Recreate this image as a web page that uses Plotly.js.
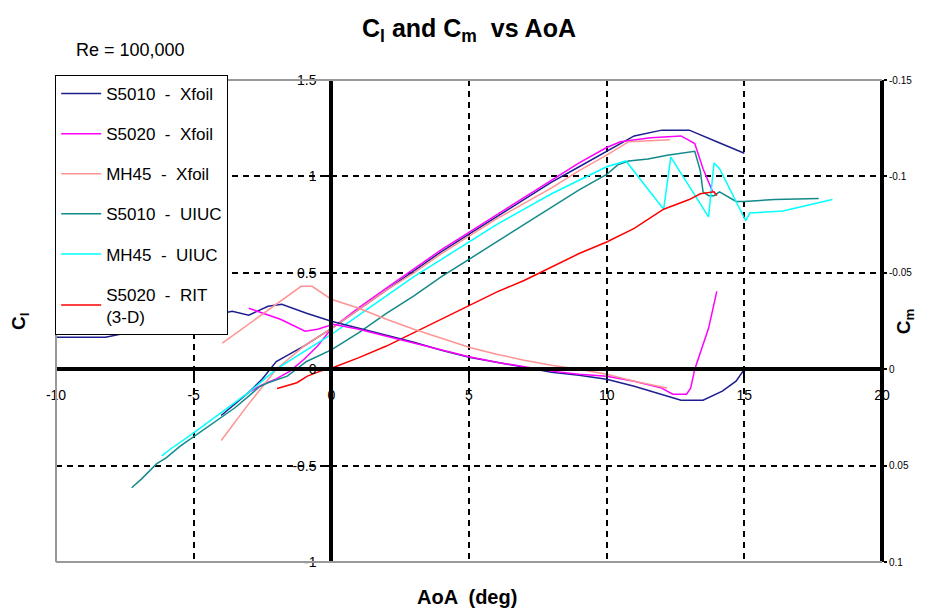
<!DOCTYPE html>
<html>
<head>
<meta charset="utf-8">
<script src="https://cdn.plot.ly/plotly-3.0.1.min.js"></script>
<style>html,body{margin:0;padding:0;background:#fff;}#chart{width:934px;height:611px;}</style>
</head>
<body>
<div id="chart"></div>
<script>
// ---- Data ----
const seriesNames = ["S5010  -  Xfoil", "S5020  -  Xfoil", "MH45  -  Xfoil", "S5010  -  UIUC", "MH45  -  UIUC", "S5020  -  RIT<br>(3-D)"];

// Cl vs AoA
const aoaS5010X = [-4,-3.5,-3,-2.5,-2,-1.5,-1,0,1,2,3,4,5,6,7,8,9,10,11,12,13,14,15];
const clS5010X  = [-0.24,-0.18,-0.12,-0.05,0.04,0.08,0.12,0.21,0.31,0.41,0.51,0.61,0.70,0.79,0.88,0.97,1.05,1.13,1.21,1.24,1.24,1.18,1.12];

const aoaS5020X = [-3,-2.5,-2,-1.5,-1,-0.5,0,1,2,3,4,5,6,7,8,9,10,10.5,11.6,12.7,13.2,13.5,13.85];
const clS5020X  = [-0.12,-0.08,-0.05,-0.01,0.05,0.12,0.21,0.32,0.42,0.52,0.62,0.71,0.80,0.89,0.98,1.07,1.15,1.18,1.20,1.21,1.17,1.04,0.92];

const aoaMH45X = [-4,-3,-2,-1,0,1,2,3,4,5,6,7,8,9,10,10.8,12.3];
const clMH45X  = [-0.37,-0.18,0.0,0.12,0.21,0.31,0.41,0.50,0.60,0.69,0.78,0.86,0.94,1.03,1.11,1.18,1.19];

const aoaS5010U = [-7.25,-6.9,-6.34,-6,-5.5,-5,-4.5,-4,-3.5,-3,-2.6,-2.3,-1.6,-0.9,0,1,2,3,4,5,6,7,8,9,10,10.4,10.8,11.5,12.2,12.7,13.2,13.4,13.5,13.7,13.9,14.1,14.7,15,16.1,17.7];
const clS5010U  = [-0.615,-0.57,-0.49,-0.46,-0.40,-0.35,-0.30,-0.25,-0.20,-0.14,-0.09,-0.07,-0.036,0.04,0.10,0.19,0.29,0.38,0.48,0.57,0.66,0.75,0.84,0.93,1.01,1.06,1.08,1.09,1.11,1.12,1.13,1.03,0.92,0.90,0.90,0.92,0.87,0.87,0.88,0.885];

const aoaMH45U = [-6.16,-5.8,-5,-4,-3,-2,-1,0,1,2,3,4,5,6,7,8,9,10,10.7,12.07,12.33,13.7,13.9,14.1,15.05,15.2,16.4,18.2];
const clMH45U  = [-0.45,-0.41,-0.33,-0.225,-0.12,0.0,0.09,0.18,0.28,0.38,0.48,0.57,0.66,0.75,0.83,0.91,0.98,1.05,1.08,0.83,1.10,0.79,1.07,1.04,0.77,0.81,0.82,0.88];

const aoaRIT = [-1.97,-1.25,-0.87,-0.4,0,1,2,3,4,5,6,7,8,9,10,11,12.07,13,13.4,13.9,14.0];
const clRIT  = [-0.10,-0.07,-0.036,-0.01,0.005,0.06,0.12,0.19,0.26,0.33,0.40,0.46,0.53,0.60,0.66,0.73,0.83,0.88,0.91,0.92,0.90];

// Cm vs AoA (right axis)
const aoaCmS5010X = [-10,-8.2,-3.6,-3.0,-2.3,-1.8,-0.9,0,1,2,3,4,5,6,7,8,9,10,11,12,12.7,13.5,14.2,14.7,15];
const cmS5010X    = [-0.0166,-0.0166,-0.0300,-0.0280,-0.0326,-0.0337,-0.0290,-0.0249,-0.0212,-0.0176,-0.0140,-0.0098,-0.0062,-0.0036,-0.0010,0.0016,0.0031,0.0052,0.0088,0.0130,0.0161,0.0161,0.0114,0.0062,0.0];

const aoaCmS5020X = [-3.0,-1.85,-0.95,-0.5,0.07,1,2,3,4,5,6,7,8,9,10,11,12,12.4,12.9,13.05,13.2,13.7,14.0];
const cmS5020X    = [-0.0316,-0.0259,-0.0197,-0.0207,-0.0233,-0.0207,-0.0171,-0.0135,-0.0098,-0.0065,-0.0036,-0.0012,0.0010,0.0026,0.0036,0.0062,0.0098,0.0130,0.0130,0.0098,0.0,-0.0212,-0.0404];

const aoaCmMH45X = [-3.96,-2.5,-1.1,-0.7,0,1,2,3,4,5,6,7,8,9,10,11,12.2];
const cmMH45X    = [-0.0135,-0.0285,-0.0430,-0.0430,-0.0363,-0.0316,-0.0259,-0.0207,-0.0161,-0.0114,-0.0078,-0.0047,-0.0021,0.0,0.0026,0.0062,0.0098];

// Tick labels
const xTickVals = [-10,-5,0,5,10,15,20];
const xTickText = ["-10","-5","0","5","10","15","20"];
const clTickVals = [-1,-0.5,0,0.5,1,1.5];
const clTickText = ["-1","-0.5","0","0.5","1","1.5"];
const cmTickVals = [0.1,0.05,0,-0.05,-0.1,-0.15];
const cmTickText = ["0.1","0.05","0","-0.05","-0.1","-0.15"];

// ---- Styling ----
const colors = ["#1e1e90", "#ff00ff", "#ff9494", "#138a8a", "#00ffff", "#ff0000"];
const FONT = "Liberation Sans, Arial, sans-serif";
const LW = 1.5;

function clTrace(x, y, i) {
  return {x: x, y: y, type: "scatter", mode: "lines", name: seriesNames[i],
    legendgroup: "g" + i, line: {color: colors[i], width: LW}, xaxis: "x", yaxis: "y"};
}
function cmTrace(x, y, i) {
  return {x: x, y: y, type: "scatter", mode: "lines", name: seriesNames[i] + " Cm",
    legendgroup: "g" + i, showlegend: false, line: {color: colors[i], width: LW}, xaxis: "x", yaxis: "y2"};
}

const data = [
  cmTrace(aoaCmS5010X, cmS5010X, 0),
  cmTrace(aoaCmS5020X, cmS5020X, 1),
  cmTrace(aoaCmMH45X, cmMH45X, 2),
  clTrace(aoaS5010X, clS5010X, 0),
  clTrace(aoaS5020X, clS5020X, 1),
  clTrace(aoaMH45X, clMH45X, 2),
  clTrace(aoaS5010U, clS5010U, 3),
  clTrace(aoaMH45U, clMH45U, 4),
  clTrace(aoaRIT, clRIT, 5)
];

const layout = {
  width: 934, height: 611,
  margin: {l: 56, r: 52, t: 80, b: 49, pad: 0},
  paper_bgcolor: "#ffffff", plot_bgcolor: "#ffffff",
  font: {family: FONT, color: "#000000", size: 14},
  showlegend: true,
  legend: {
    x: -0.001, y: 1.0104, xanchor: "left", yanchor: "top",
    bgcolor: "#ffffff", bordercolor: "#000000", borderwidth: 1,
    font: {family: FONT, size: 17, color: "#000000"},
    tracegroupgap: 15, traceorder: "grouped", itemwidth: 40
  },
  xaxis: {
    range: [-10, 20], anchor: "free", position: 0.4,
    showline: true, linecolor: "#000000", linewidth: 4,
    showgrid: true, gridcolor: "#000000", gridwidth: 2, griddash: "6px,5px",
    zeroline: false,
    tickmode: "array", tickvals: xTickVals, ticktext: xTickText,
    ticks: "outside", ticklen: 6, tickwidth: 2, tickcolor: "#000000",
    tickfont: {family: FONT, size: 14, color: "#000000"},
    ticklabelstandoff: 6, fixedrange: true
  },
  yaxis: {
    range: [-1, 1.5], anchor: "free", position: 1/3,
    showline: true, linecolor: "#000000", linewidth: 4,
    showgrid: true, gridcolor: "#000000", gridwidth: 2, griddash: "6px,5px",
    zeroline: false,
    tickmode: "array", tickvals: clTickVals, ticktext: clTickText,
    ticks: "outside", ticklen: 4, tickwidth: 2, tickcolor: "#000000",
    tickfont: {family: FONT, size: 14, color: "#000000"},
    ticklabelstandoff: 6, fixedrange: true
  },
  yaxis2: {
    range: [0.1, -0.15], overlaying: "y", side: "right", anchor: "free", position: 1,
    showline: true, linecolor: "#000000", linewidth: 4,
    showgrid: false, zeroline: false,
    tickmode: "array", tickvals: cmTickVals, ticktext: cmTickText,
    ticks: "outside", ticklen: 3, tickwidth: 2, tickcolor: "#000000",
    tickfont: {family: FONT, size: 10, color: "#000000"},
    fixedrange: true
  },
  shapes: [
    {type: "line", xref: "paper", yref: "paper", x0: 0, x1: 1, y0: 1, y1: 1, line: {color: "#999999", width: 2}, layer: "above"},
    {type: "line", xref: "paper", yref: "paper", x0: 0, x1: 1, y0: 0, y1: 0, line: {color: "#999999", width: 2}, layer: "above"},
    {type: "line", xref: "paper", yref: "paper", x0: 0, x1: 0, y0: 0, y1: 1, line: {color: "#999999", width: 2}, layer: "above"}
  ],
  annotations: [
    {text: "<b>C<sub>l</sub> and C<sub>m</sub>  vs AoA</b>", xref: "paper", yref: "paper", x: 0.50, y: 1.1037,
     xanchor: "center", yanchor: "middle", showarrow: false, font: {family: FONT, size: 25, color: "#000000"}},
    {text: "Re = 100,000", xref: "paper", yref: "paper", x: 0.090, y: 1.0622,
     xanchor: "center", yanchor: "middle", showarrow: false, font: {family: FONT, size: 18, color: "#000000"}},
    {text: "<b>AoA  (deg)</b>", xref: "paper", yref: "paper", x: 0.4976, y: -0.0726,
     xanchor: "center", yanchor: "middle", showarrow: false, font: {family: FONT, size: 20, color: "#000000"}},
    {text: "<b>C<sub>l</sub></b>", xref: "paper", yref: "paper", x: -0.0436, y: 0.5, textangle: -90,
     xanchor: "center", yanchor: "middle", showarrow: false, font: {family: FONT, size: 19, color: "#000000"}},
    {text: "<b>C<sub>m</sub></b>", xref: "paper", yref: "paper", x: 1.028, y: 0.5, textangle: -90,
     xanchor: "center", yanchor: "middle", showarrow: false, font: {family: FONT, size: 19, color: "#000000"}}
  ]
};

Plotly.newPlot("chart", data, layout, {staticPlot: true, displayModeBar: false});
</script>
</body>
</html>
